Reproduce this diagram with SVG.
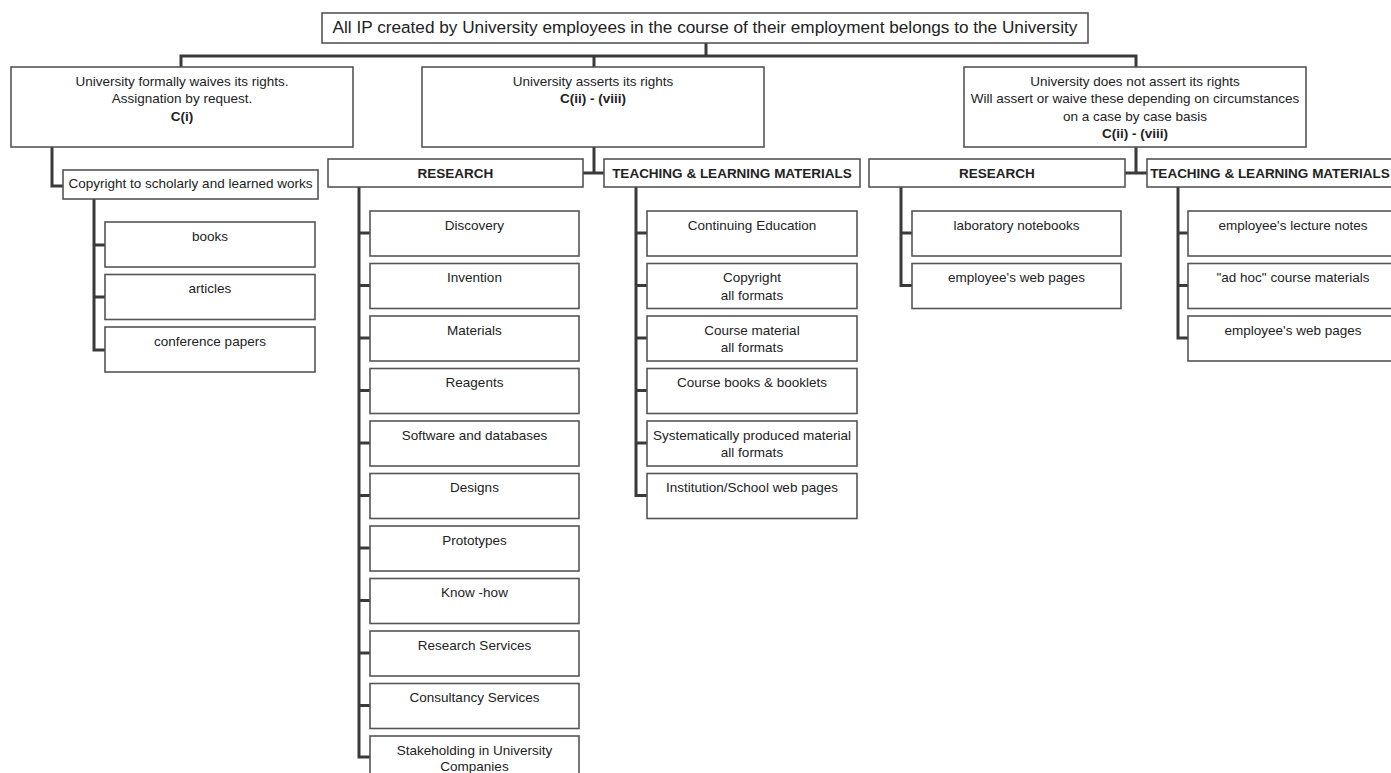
<svg xmlns="http://www.w3.org/2000/svg" width="1391" height="773" viewBox="0 0 1391 773">
<style>
.b{fill:#fff;stroke:#555;stroke-width:1.6}
.t{font-family:"Liberation Sans",Arial,sans-serif;font-size:13.5px;fill:#222;text-anchor:middle}
.bd{font-weight:bold}
.ti{font-family:"Liberation Sans",Arial,sans-serif;font-size:17.2px;fill:#222;text-anchor:middle}
.c{fill:none;stroke:#3a3a3a;stroke-width:3}
</style>
<rect width="1391" height="773" fill="#fff"/>
<g id="connectors">
<path class="c" d="M706 43V56M181 67V56H1136V67M594 56V67"/>
<path class="c" d="M52 147V186H63"/>
<path class="c" d="M94 199V350H105M94 245H105M94 297H105"/>
<path class="c" d="M594 147V173M583 173H604"/>
<path class="c" d="M1136 147V173M1125 173H1147"/>
<path class="c" d="M359 187V757H370M359 233H370M359 285.5H370M359 338H370M359 390.5H370M359 443H370M359 495.5H370M359 548H370M359 600.5H370M359 653H370M359 705.5H370"/>
<path class="c" d="M636 187V495.5H647M636 233H647M636 285.5H647M636 338H647M636 390.5H647M636 443H647"/>
<path class="c" d="M901 187V285.5H912M901 233H912"/>
<path class="c" d="M1178 187V338H1188M1178 233H1188M1178 285.5H1188"/>
</g>
<g id="root"><rect class="b" x="322" y="13" width="766" height="30"/><text class="ti" x="705" y="33">All IP created by University employees in the course of their employment belongs to the University</text></g>
<g id="waives"><rect class="b" x="11" y="67" width="342" height="80"/><text class="t" x="182" y="85.5">University formally waives its rights.</text><text class="t" x="182" y="103">Assignation by request.</text><text class="t bd" x="182" y="120.5">C(i)</text></g>
<g id="asserts"><rect class="b" x="422" y="67" width="342" height="80"/><text class="t" x="593" y="85.5">University asserts its rights</text><text class="t bd" x="593" y="103">C(ii) - (viii)</text></g>
<g id="notassert"><rect class="b" x="964" y="67" width="342" height="80"/><text class="t" x="1135" y="85.5">University does not assert its rights</text><text class="t" x="1135" y="103">Will assert or waive these depending on circumstances</text><text class="t" x="1135" y="120.5">on a case by case basis</text><text class="t bd" x="1135" y="138">C(ii) - (viii)</text></g>
<g id="copyright"><rect class="b" x="63" y="170" width="255" height="29"/><text class="t" x="190.5" y="188">Copyright to scholarly and learned works</text></g>
<g id="books"><rect class="b" x="105" y="222" width="210" height="45"/><text class="t" x="210" y="240.5">books</text></g>
<g id="articles"><rect class="b" x="105" y="274.5" width="210" height="45"/><text class="t" x="210" y="293">articles</text></g>
<g id="conference"><rect class="b" x="105" y="327" width="210" height="45"/><text class="t" x="210" y="345.5">conference papers</text></g>
<g id="research1"><rect class="b" x="328" y="159" width="255" height="28"/><text class="t bd" x="455.5" y="178">RESEARCH</text></g>
<g id="teaching1"><rect class="b" x="604" y="159" width="256" height="28"/><text class="t bd" x="732" y="178">TEACHING &amp; LEARNING MATERIALS</text></g>
<g id="research2"><rect class="b" x="869" y="159" width="256" height="28"/><text class="t bd" x="997" y="178">RESEARCH</text></g>
<g id="teaching2"><rect class="b" x="1147" y="159" width="256" height="28"/><text class="t bd" x="1270" y="178">TEACHING &amp; LEARNING MATERIALS</text></g>
<g id="discovery"><rect class="b" x="370" y="211" width="209" height="45"/><text class="t" x="474.5" y="229.5">Discovery</text></g>
<g id="invention"><rect class="b" x="370" y="263.5" width="209" height="45"/><text class="t" x="474.5" y="282">Invention</text></g>
<g id="materials"><rect class="b" x="370" y="316" width="209" height="45"/><text class="t" x="474.5" y="334.5">Materials</text></g>
<g id="reagents"><rect class="b" x="370" y="368.5" width="209" height="45"/><text class="t" x="474.5" y="387">Reagents</text></g>
<g id="software"><rect class="b" x="370" y="421" width="209" height="45"/><text class="t" x="474.5" y="439.5">Software and databases</text></g>
<g id="designs"><rect class="b" x="370" y="473.5" width="209" height="45"/><text class="t" x="474.5" y="492">Designs</text></g>
<g id="prototypes"><rect class="b" x="370" y="526" width="209" height="45"/><text class="t" x="474.5" y="544.5">Prototypes</text></g>
<g id="knowhow"><rect class="b" x="370" y="578.5" width="209" height="45"/><text class="t" x="474.5" y="597">Know -how</text></g>
<g id="resservices"><rect class="b" x="370" y="631" width="209" height="45"/><text class="t" x="474.5" y="649.5">Research Services</text></g>
<g id="consultancy"><rect class="b" x="370" y="683.5" width="209" height="45"/><text class="t" x="474.5" y="702">Consultancy Services</text></g>
<g id="stakeholding"><rect class="b" x="370" y="736" width="209" height="45"/><text class="t" x="474.5" y="754.5">Stakeholding in University</text><text class="t" x="474.5" y="771">Companies</text></g>
<g id="continuing"><rect class="b" x="647" y="211" width="210" height="45"/><text class="t" x="752" y="229.5">Continuing Education</text></g>
<g id="copyrightall"><rect class="b" x="647" y="263.5" width="210" height="45"/><text class="t" x="752" y="282">Copyright</text><text class="t" x="752" y="299.5">all formats</text></g>
<g id="coursematerial"><rect class="b" x="647" y="316" width="210" height="45"/><text class="t" x="752" y="334.5">Course material</text><text class="t" x="752" y="352">all formats</text></g>
<g id="coursebooks"><rect class="b" x="647" y="368.5" width="210" height="45"/><text class="t" x="752" y="387">Course books &amp; booklets</text></g>
<g id="systematic"><rect class="b" x="647" y="421" width="210" height="45"/><text class="t" x="752" y="439.5">Systematically produced material</text><text class="t" x="752" y="457">all formats</text></g>
<g id="institution"><rect class="b" x="647" y="473.5" width="210" height="45"/><text class="t" x="752" y="492">Institution/School web pages</text></g>
<g id="labnotebooks"><rect class="b" x="912" y="211" width="209" height="45"/><text class="t" x="1016.5" y="229.5">laboratory notebooks</text></g>
<g id="webpages1"><rect class="b" x="912" y="263.5" width="209" height="45"/><text class="t" x="1016.5" y="282">employee's web pages</text></g>
<g id="lecturenotes"><rect class="b" x="1188" y="211" width="210" height="45"/><text class="t" x="1293" y="229.5">employee's lecture notes</text></g>
<g id="adhoc"><rect class="b" x="1188" y="263.5" width="210" height="45"/><text class="t" x="1293" y="282">"ad hoc" course materials</text></g>
<g id="webpages2"><rect class="b" x="1188" y="316" width="210" height="45"/><text class="t" x="1293" y="334.5">employee's web pages</text></g>
</svg>
